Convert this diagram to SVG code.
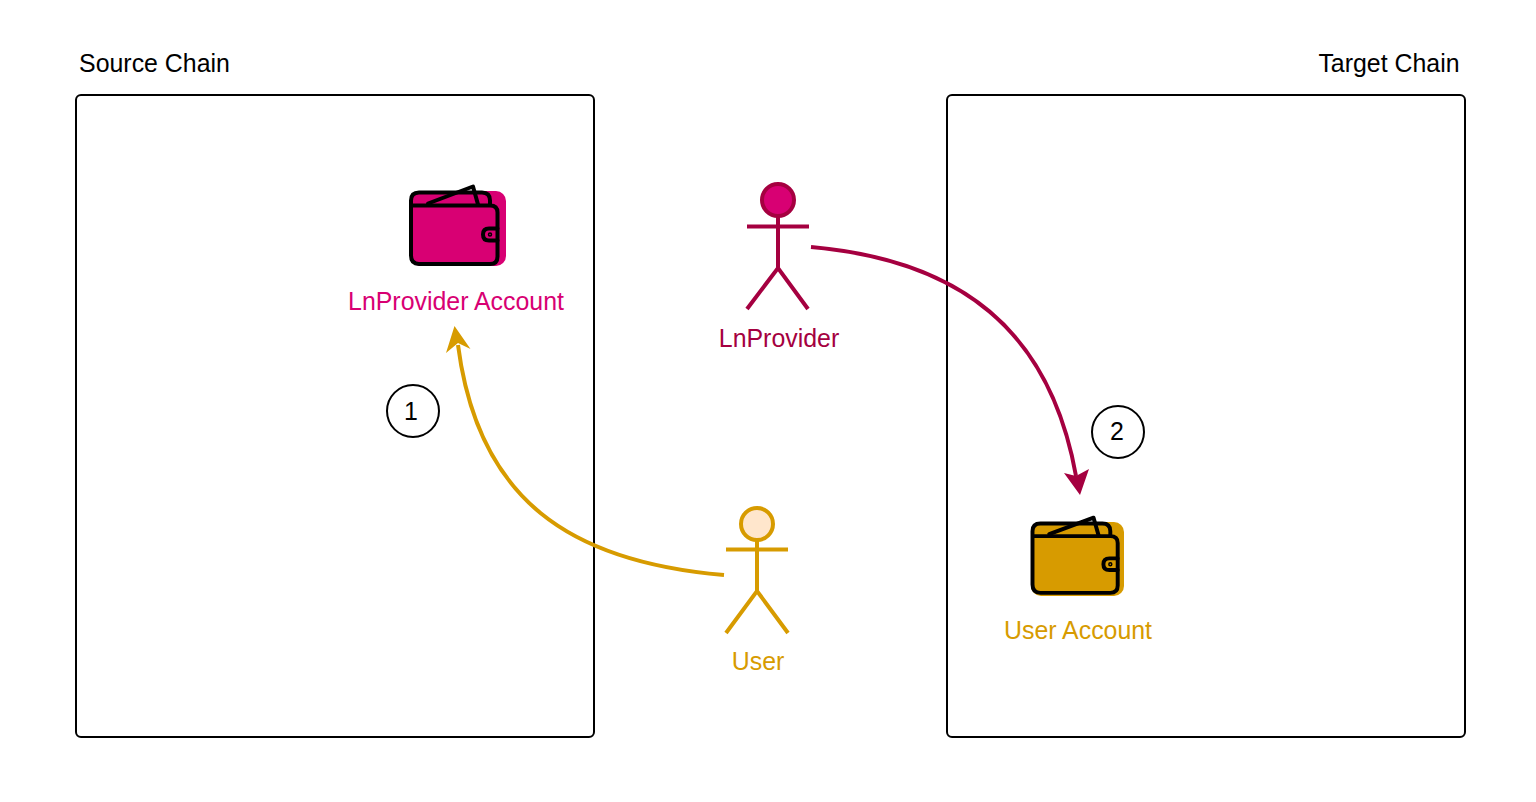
<svg xmlns="http://www.w3.org/2000/svg" xmlns:xlink="http://www.w3.org/1999/xlink" width="1536" height="802" viewBox="0 0 1536 802">
<style>
text{font-family:"Liberation Sans",Arial,sans-serif;font-size:24.9px;text-anchor:middle}
.box{fill:#fff;stroke:#000;stroke-width:2}
.num{fill:#fff;stroke:#000;stroke-width:2}
.w{fill:none;stroke:#000;stroke-width:4;stroke-linejoin:round;stroke-linecap:round}
.conn{fill:none;stroke-width:4}
.limb{fill:none;stroke-width:4}
.head{stroke-width:4}
</style>
<defs>
<g id="wallet-lines">
<path class="w" d="M17 11 L62 -6 L67 12"/>
<path class="w" d="M0 13 H79 V8 Q79 0 71 0 H8 Q0 0 0 8 V63 Q0 71.500 8 71.500 H79 Q86.500 71.500 86.500 64 V20 Q86.500 13 79 13"/>
<path class="w" d="M86.500 36 H78 Q72 36 72 42 Q72 48 78 48 H86.500"/>
<circle cx="79" cy="42" r="1.500" fill="none" stroke="#000" stroke-width="1.500"/>
</g>
</defs>
<rect width="1536" height="802" fill="#fff"/>
<g id="source-chain"><rect class="box" x="76" y="95" width="518" height="642" rx="5"/><text x="154.500" y="72">Source Chain</text></g>
<g id="target-chain"><rect class="box" x="947" y="95" width="518" height="642" rx="5"/><text x="1389" y="72">Target Chain</text></g>
<g id="connectors">
<path class="conn" stroke="#d79b00" d="M724 575 C570 562 478 500 458 345"/>
<path fill="#d79b00" d="M454.500 326 L470.500 349 L458 343 L446 353 Z"/>
<path class="conn" stroke="#a50040" d="M811 247 C960 260 1050 330 1076 476"/>
<path fill="#a50040" d="M1080 495 L1064 473 L1076 476 L1089 469 Z"/>
</g>
<g id="lnprovider-account">
<rect x="410" y="191" width="96" height="75" rx="10" fill="#d80073"/>
<use xlink:href="#wallet-lines" transform="translate(411 192.500)"/>
<text x="456" y="309.500" fill="#d80073">LnProvider Account</text>
</g>
<g id="lnprovider">
<circle class="head" cx="778" cy="200" r="16" fill="#d80073" stroke="#a50040"/>
<path class="limb" stroke="#a50040" d="M778 216 V268 M747 226.500 H809 M747 309 L778 268 L808 309"/>
<text x="779" y="346.500" fill="#a50040">LnProvider</text>
</g>
<g id="user">
<circle class="head" cx="757" cy="524" r="16" fill="#ffe6cc" stroke="#d79b00"/>
<path class="limb" stroke="#d79b00" d="M757 540 V591 M726 549.500 H788 M726 633 L757 591 L788 633"/>
<text x="758" y="669.500" fill="#d79b00">User</text>
</g>
<g id="user-account">
<rect x="1031" y="522" width="93" height="74" rx="10" fill="#d79b00"/>
<use xlink:href="#wallet-lines" transform="translate(1032.500 523.500) scale(.985 .97)"/>
<text x="1078" y="639" fill="#d79b00">User Account</text>
</g>
<g id="step-1"><circle class="num" cx="413" cy="411" r="26"/><text x="411" y="420">1</text></g>
<g id="step-2"><circle class="num" cx="1118" cy="432" r="26"/><text x="1117" y="440">2</text></g>
</svg>
